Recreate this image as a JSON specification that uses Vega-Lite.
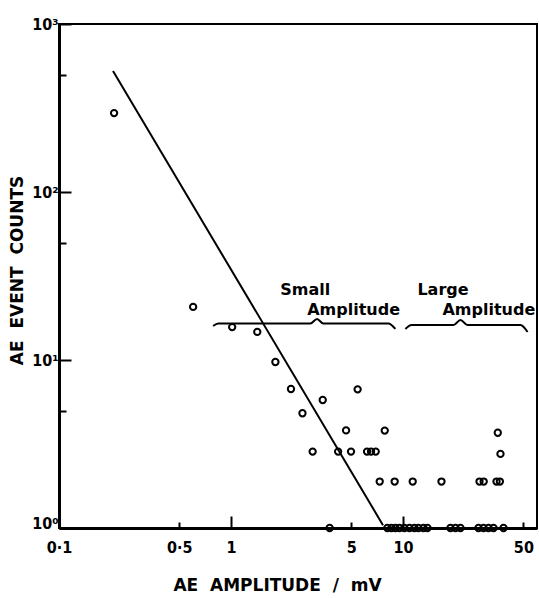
{
  "$schema": "https://vega.github.io/schema/vega-lite/v6.json",
  "width": 478,
  "height": 504,
  "autosize": "none",
  "padding": {"left": 59, "top": 24, "right": 2, "bottom": 70},
  "background": "white",
  "config": {
    "view": {"stroke": "black", "strokeWidth": 2},
    "font": "DejaVu Sans",
    "axis": {
      "grid": false,
      "domainColor": "black",
      "domainWidth": 3,
      "tickColor": "black",
      "tickWidth": 2,
      "labelColor": "black",
      "labelFont": "DejaVu Sans Condensed, Liberation Sans Narrow, DejaVu Sans",
      "labelFontWeight": "bold",
      "labelFontSize": 16,
      "titleColor": "black",
      "titleFont": "DejaVu Sans",
      "titleFontWeight": "bold",
      "titleFontSize": 17
    }
  },
  "datasets": {
    "points": [
      {"amp": 0.209, "count": 295},
      {"amp": 0.602, "count": 20.7},
      {"amp": 1.015, "count": 15.7},
      {"amp": 1.42, "count": 14.7},
      {"amp": 1.81, "count": 9.73},
      {"amp": 2.23, "count": 6.72},
      {"amp": 2.6, "count": 4.82},
      {"amp": 2.98, "count": 2.85},
      {"amp": 3.41, "count": 5.78},
      {"amp": 4.19, "count": 2.85},
      {"amp": 4.66, "count": 3.81},
      {"amp": 4.98, "count": 2.85},
      {"amp": 5.44, "count": 6.69},
      {"amp": 6.17, "count": 2.85},
      {"amp": 6.51, "count": 2.85},
      {"amp": 6.93, "count": 2.85},
      {"amp": 7.82, "count": 3.8},
      {"amp": 7.31, "count": 1.89},
      {"amp": 8.93, "count": 1.89},
      {"amp": 11.37, "count": 1.89},
      {"amp": 16.71, "count": 1.89},
      {"amp": 27.8, "count": 1.89},
      {"amp": 29.4, "count": 1.89},
      {"amp": 34.9, "count": 1.89},
      {"amp": 36.5, "count": 1.89},
      {"amp": 35.5, "count": 3.69},
      {"amp": 36.8, "count": 2.76},
      {"amp": 3.74, "count": 1},
      {"amp": 8.1, "count": 1},
      {"amp": 8.55, "count": 1},
      {"amp": 9.02, "count": 1},
      {"amp": 9.52, "count": 1},
      {"amp": 10.17, "count": 1},
      {"amp": 10.88, "count": 1},
      {"amp": 11.63, "count": 1},
      {"amp": 12.27, "count": 1},
      {"amp": 13.13, "count": 1},
      {"amp": 13.85, "count": 1},
      {"amp": 18.84, "count": 1},
      {"amp": 20.15, "count": 1},
      {"amp": 21.54, "count": 1},
      {"amp": 27.42, "count": 1},
      {"amp": 29.33, "count": 1},
      {"amp": 31.36, "count": 1},
      {"amp": 33.53, "count": 1},
      {"amp": 38.33, "count": 1}
    ],
    "fit": [
      {"amp": 0.206, "count": 525},
      {"amp": 7.64, "count": 1.04}
    ],
    "braces": [
      {"brace": "small", "order": 1, "amp": 0.787, "count": 15.94},
      {"brace": "small", "order": 2, "amp": 0.842, "count": 16.5},
      {"brace": "small", "order": 3, "amp": 2.888, "count": 16.5},
      {"brace": "small", "order": 4, "amp": 3.159, "count": 17.54},
      {"brace": "small", "order": 5, "amp": 3.438, "count": 16.5},
      {"brace": "small", "order": 6, "amp": 8.21, "count": 16.5},
      {"brace": "small", "order": 7, "amp": 9.02, "count": 15.3},
      {"brace": "large", "order": 1, "amp": 10.31, "count": 15.3},
      {"brace": "large", "order": 2, "amp": 11.18, "count": 16.16},
      {"brace": "large", "order": 3, "amp": 19.62, "count": 16.16},
      {"brace": "large", "order": 4, "amp": 21.55, "count": 17.3},
      {"brace": "large", "order": 5, "amp": 23.67, "count": 16.16},
      {"brace": "large", "order": 6, "amp": 48.14, "count": 16.16},
      {"brace": "large", "order": 7, "amp": 52.89, "count": 14.68}
    ],
    "labels": [
      {"text": "Small", "amp": 1.93, "count": 26.1},
      {"text": "Amplitude", "amp": 2.77, "count": 19.85},
      {"text": "Large", "amp": 12.11, "count": 26.1},
      {"text": "Amplitude", "amp": 16.93, "count": 19.85}
    ]
  },
  "layer": [
    {
      "data": {"name": "points"},
      "mark": {"type": "point", "shape": "circle", "filled": false, "size": 40, "strokeWidth": 2, "color": "black", "opacity": 1, "clip": false},
      "encoding": {
        "x": {
          "field": "amp", "type": "quantitative",
          "scale": {"type": "log", "domain": [0.1, 60], "nice": false},
          "axis": {
            "title": "AE\u00a0\u00a0AMPLITUDE\u00a0\u00a0/\u00a0\u00a0mV",
            "values": [0.1, 0.5, 1, 5, 10, 50],
            "labelExpr": "datum.value == 0.1 ? '0·1' : datum.value == 0.5 ? '0·5' : datum.value == 1 ? '1' : datum.value == 5 ? '5' : datum.value == 10 ? '10' : '50'",
            "tickSize": {"condition": {"test": "datum.value == 0.1 || datum.value == 1 || datum.value == 10", "value": -12}, "value": -6},
            "labelPadding": {"condition": {"test": "datum.value == 0.1 || datum.value == 1 || datum.value == 10", "value": 23}, "value": 17},
            "labelFlush": false,
            "titleX": 218,
            "titleY": 57,
            "titleBaseline": "middle",
            "titleAnchor": "middle"
          }
        },
        "y": {
          "field": "count", "type": "quantitative",
          "scale": {"type": "log", "domain": [1, 1000], "nice": false},
          "axis": {
            "title": "AE\u00a0\u00a0EVENT\u00a0\u00a0COUNTS",
            "values": [1, 5, 10, 50, 100, 500, 1000],
            "labelExpr": "datum.value == 1000 ? '10³' : datum.value == 100 ? '10²' : datum.value == 10 ? '10¹' : datum.value == 1 ? '10⁰' : ''",
            "tickSize": {"condition": {"test": "datum.value == 1 || datum.value == 10 || datum.value == 100 || datum.value == 1000", "value": -12}, "value": -7},
            "labelBaseline": {"condition": {"test": "datum.value == 1", "value": "alphabetic"}, "value": "middle"},
            "labelFlush": false,
            "labelPadding": 13,
            "titleX": -42,
            "titleY": 246,
            "titleAngle": -90,
            "titleBaseline": "middle",
            "titleAnchor": "middle"
          }
        }
      }
    },
    {
      "data": {"name": "fit"},
      "mark": {"type": "line", "color": "black", "strokeWidth": 2},
      "encoding": {
        "x": {"field": "amp", "type": "quantitative"},
        "y": {"field": "count", "type": "quantitative"}
      }
    },
    {
      "data": {"name": "braces"},
      "mark": {"type": "line", "color": "black", "strokeWidth": 2, "interpolate": "monotone"},
      "encoding": {
        "x": {"field": "amp", "type": "quantitative"},
        "y": {"field": "count", "type": "quantitative"},
        "detail": {"field": "brace"},
        "order": {"field": "order"}
      }
    },
    {
      "data": {"name": "labels"},
      "mark": {"type": "text", "align": "left", "baseline": "middle", "font": "DejaVu Sans", "fontWeight": "bold", "fontSize": 16, "color": "black"},
      "encoding": {
        "x": {"field": "amp", "type": "quantitative"},
        "y": {"field": "count", "type": "quantitative"},
        "text": {"field": "text"}
      }
    }
  ]
}
